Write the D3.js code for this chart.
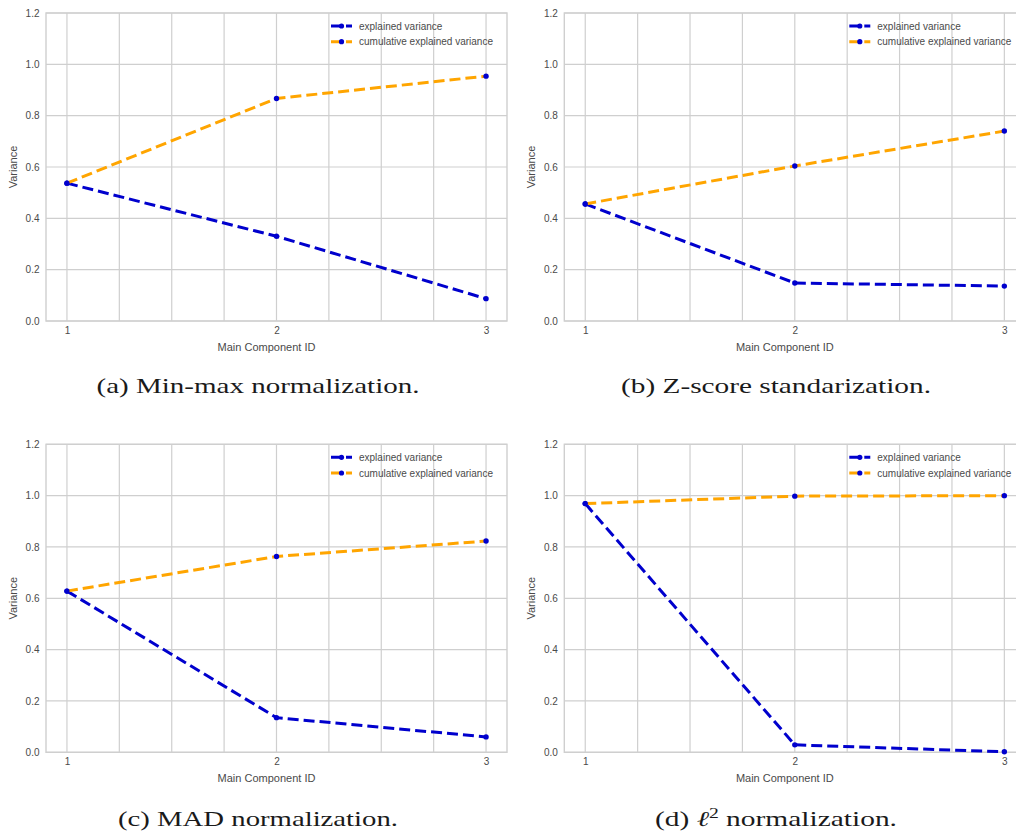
<!DOCTYPE html>
<html>
<head>
<meta charset="utf-8">
<script src="https://cdn.jsdelivr.net/npm/d3@7"></script>
<style>
  html, body { margin: 0; padding: 0; background: #fff; }
  svg { display: block; }
</style>
</head>
<body>
<svg id="fig" width="1016" height="837"></svg>
<script>
// Principal component IDs on the x axis
const componentIds = [1, 2, 3];

// Explained / cumulative explained variance for each normalization method
const explainedMinMax   = [0.537, 0.330, 0.087];
const cumulativeMinMax  = [0.537, 0.867, 0.954];
const explainedZScore   = [0.456, 0.148, 0.136];
const cumulativeZScore  = [0.456, 0.604, 0.740];
const explainedMAD      = [0.628, 0.135, 0.060];
const cumulativeMAD     = [0.628, 0.763, 0.823];
const explainedL2       = [0.969, 0.029, 0.002];
const cumulativeL2      = [0.969, 0.998, 1.000];

// Axis ticks
const yTicks = [0.0, 0.2, 0.4, 0.6, 0.8, 1.0, 1.2];
const xTickLabels = ["1", "2", "3"];
const xGridSteps = [1, 1.25, 1.5, 1.75, 2, 2.25, 2.5, 2.75, 3];

const seriesNames = ["explained variance", "cumulative explained variance"];
const captionPrefixes = ["(a)", "(b)", "(c)", "(d)"];
const captionTexts = ["Min-max normalization.", "Z-score standarization.", "MAD normalization.", " normalization."];

const panels = [
  { explained: explainedMinMax, cumulative: cumulativeMinMax, left: 46,    top: 13,    capX: 258, capY: 393, capW: 323 },
  { explained: explainedZScore, cumulative: cumulativeZScore, left: 564.3, top: 13,    capX: 776, capY: 393, capW: 310 },
  { explained: explainedMAD,    cumulative: cumulativeMAD,    left: 46,    top: 444.3, capX: 258, capY: 826, capW: 280 },
  { explained: explainedL2,     cumulative: cumulativeL2,     left: 564.3, top: 444.3, capX: 776, capY: 826, capW: 242 }
];

const W = 461, H = 308;
const blue = "#0000cd", orange = "#ffa500", grid = "#cfcfcf", textCol = "#4a4a4a";
const sans = "'Liberation Sans', Arial, sans-serif";
const serif = "'Liberation Serif', 'Times New Roman', serif";

const svg = d3.select("#fig");

panels.forEach((p, i) => {
  const x = d3.scaleLinear().domain([0.9, 3.1]).range([0, W]);
  const y = d3.scaleLinear().domain([0, 1.2]).range([H, 0]);
  const g = svg.append("g").attr("transform", `translate(${p.left},${p.top})`);

  // grid
  g.append("g").selectAll("line").data(yTicks).join("line")
    .attr("x1", 0).attr("x2", W).attr("y1", d => y(d)).attr("y2", d => y(d))
    .attr("stroke", grid).attr("stroke-width", 1.2);
  g.append("g").selectAll("line").data(xGridSteps).join("line")
    .attr("x1", d => x(d)).attr("x2", d => x(d)).attr("y1", 0).attr("y2", H)
    .attr("stroke", grid).attr("stroke-width", 1.2);
  g.append("rect").attr("width", W).attr("height", H)
    .attr("fill", "none").attr("stroke", grid).attr("stroke-width", 1.4);

  // y axis labels
  const yAxis = d3.axisLeft(y).tickValues(yTicks).tickFormat(d3.format(".1f")).tickSize(0).tickPadding(6.5);
  const ya = g.append("g").call(yAxis);
  ya.select(".domain").remove();
  ya.selectAll("text").attr("fill", textCol).style("font-family", sans).style("font-size", "10px");

  // x axis labels
  const xAxis = d3.axisBottom(x).tickValues(componentIds).tickFormat((d, k) => xTickLabels[k]).tickSize(0).tickPadding(6);
  const xa = g.append("g").attr("transform", `translate(0,${H})`).call(xAxis);
  xa.select(".domain").remove();
  xa.selectAll("text").attr("fill", textCol).style("font-family", sans).style("font-size", "10px");

  g.append("text").attr("x", W / 2 - 10).attr("y", H + 30)
    .attr("text-anchor", "middle").attr("fill", textCol)
    .style("font-family", sans).style("font-size", "11px").text("Main Component ID");
  g.append("text").attr("transform", `translate(-29,${H / 2}) rotate(-90)`)
    .attr("text-anchor", "middle").attr("fill", textCol)
    .style("font-family", sans).style("font-size", "11px").text("Variance");

  // series
  const line = d3.line().x((d, k) => x(componentIds[k])).y(d => y(d));
  [[p.explained, blue], [p.cumulative, orange]].forEach(([vals, col]) => {
    g.append("path").datum(vals).attr("d", line)
      .attr("fill", "none").attr("stroke", col).attr("stroke-width", 3)
      .attr("stroke-dasharray", "11,5");
    g.append("g").selectAll("circle").data(vals).join("circle")
      .attr("cx", (d, k) => x(componentIds[k])).attr("cy", d => y(d))
      .attr("r", 2.7).attr("fill", blue);
  });

  // legend
  const lg = g.append("g").attr("transform", "translate(285,13)");
  [blue, orange].forEach((col, k) => {
    const row = lg.append("g").attr("transform", `translate(0,${k * 15.7})`);
    row.append("line").attr("x1", 0).attr("x2", 21).attr("y1", 0).attr("y2", 0)
      .attr("stroke", col).attr("stroke-width", 3).attr("stroke-dasharray", "11,4");
    row.append("circle").attr("cx", 10.5).attr("cy", 0).attr("r", 2.6).attr("fill", blue);
    row.append("text").attr("x", 28).attr("y", 0).attr("dy", "0.35em")
      .attr("fill", textCol).style("font-family", sans).style("font-size", "10px")
      .text(seriesNames[k]);
  });

  // caption
  const cap = svg.append("text").attr("x", p.capX).attr("y", p.capY)
    .attr("text-anchor", "middle").attr("fill", "#1a1a1a")
    .attr("textLength", p.capW).attr("lengthAdjust", "spacingAndGlyphs")
    .style("font-family", serif).style("font-size", "21px");
  cap.append("tspan").text(captionPrefixes[i] + " ");
  if (i === 3) {
    cap.append("tspan").style("font-style", "italic").text("ℓ");
    cap.append("tspan").attr("dy", -8).style("font-size", "14px").text("2");
    cap.append("tspan").attr("dy", 8).text(captionTexts[i]);
  } else {
    cap.append("tspan").text(captionTexts[i]);
  }
});
</script>
</body>
</html>
